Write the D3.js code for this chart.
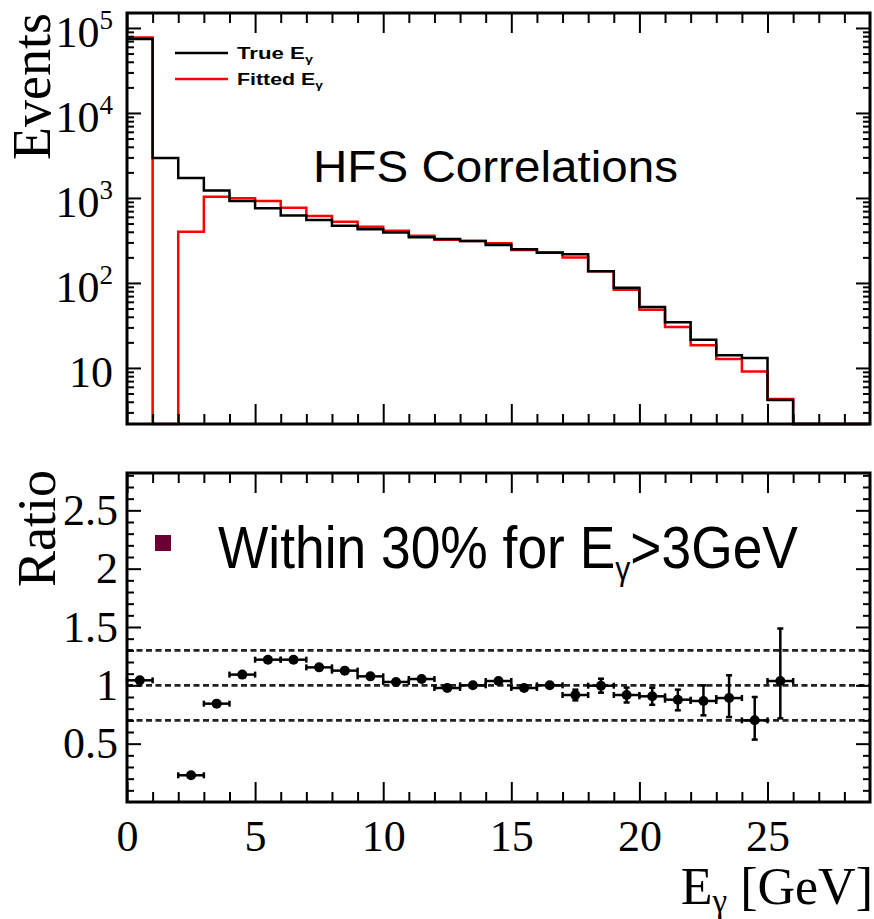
<!DOCTYPE html>
<html>
<head>
<meta charset="utf-8">
<script src="https://cdn.jsdelivr.net/npm/d3@7"></script>
<style>
  body { margin: 0; background: #fff; }
  svg { display: block; }
</style>
</head>
<body>
<svg id="chart" width="874" height="919"></svg>
<script>
// ---- data: photon energy spectrum, 1 GeV bins ----
const binLow = [0, 1, 2, 3, 4, 5, 6, 7, 8, 9, 10, 11, 12, 13, 14, 15, 16, 17, 18, 19, 20, 21, 22, 23, 24, 25, 26, 27, 28];
const binWidth = 1;
const trueE   = [74000, 2950, 1720, 1220, 922, 757, 620, 551, 472, 428, 391, 344, 330, 312, 280, 249, 227, 217, 137, 88, 52, 34.4, 21.5, 14.1, 13.1, 4.2, 0, 0, 0];
const fittedE = [77500, 0, 400, 1035, 990, 922, 769, 614, 526, 459, 412, 360, 323, 312, 293, 244, 229, 199, 137, 83, 48.5, 30.4, 18.5, 12.7, 9.1, 4.3, 0, 0, 0];

// ratio fitted / true per bin (null: no entry), with upper / lower errors
const ratio   = [1.043, null, 0.229, 0.843, 1.092, 1.22, 1.22, 1.154, 1.126, 1.077, 1.029, 1.054, 0.977, 1.0, 1.037, 0.977, 1.0, 0.917, 0.997, 0.917, 0.906, 0.877, 0.866, 0.891, 0.70, 1.037];
const errUp   = [0.004, null, 0.008, 0.008, 0.008, 0.009, 0.01, 0.011, 0.012, 0.013, 0.014, 0.015, 0.016, 0.017, 0.02, 0.022, 0.03, 0.046, 0.06, 0.064, 0.073, 0.086, 0.134, 0.195, 0.20, 0.45];
const errDown = [0.004, null, 0.008, 0.008, 0.008, 0.009, 0.01, 0.011, 0.012, 0.013, 0.014, 0.015, 0.016, 0.017, 0.02, 0.022, 0.03, 0.046, 0.06, 0.064, 0.073, 0.091, 0.123, 0.163, 0.165, 0.32];
const bandLines = [0.7, 1.0, 1.3];

// ---- axis ticks ----
const xMajor = [0, 5, 10, 15, 20, 25];
const xLabels = ["0", "5", "10", "15", "20", "25"];
const yTopMajor = [10, 100, 1000, 10000, 100000];
const yTopExp = ["", "2", "3", "4", "5"];
const yBotMajor = [0.5, 1, 1.5, 2, 2.5];
const yBotLabels = ["0.5", "1", "1.5", "2", "2.5"];

const legendItems = [
  { label: "True E", sub: "\u03b3", color: "#000", width: 76 },
  { label: "Fitted E", sub: "\u03b3", color: "#ff0000", width: 86 }
];

// ---- layout ----
const L = 127, R = 870;
const topT = 13, topB = 424;
const botT = 473, botB = 802;
const serif = "'Liberation Serif', 'Times New Roman', serif";
const sans = "'Liberation Sans', Arial, sans-serif";

const svg = d3.select("#chart");
svg.append("rect").attr("width", 874).attr("height", 919).attr("fill", "#fff");

const x = d3.scaleLinear().domain([0, 29]).range([L, R]);
const yMin = 2.19;
const yTop = d3.scaleLog().domain([yMin, 1.5e5]).range([topB, topT]);
const yBot = d3.scaleLinear().domain([0, 2.82]).range([botB, botT]);

const xMinor = d3.range(1, 29).filter(v => v % 5 !== 0);
const yTopMinor = [];
[1, 10, 100, 1000, 10000, 100000].forEach(dec => {
  for (let k = 2; k <= 9; k++) {
    const v = dec * k;
    if (v >= yMin && v <= 1.5e5) yTopMinor.push(v);
  }
});
const yBotMinor = d3.range(1, 29).map(i => i / 10).filter(v => Math.round(v * 10) % 5 !== 0);

// place a text at (px, py) and stretch it horizontally to a given width
function fitText(t, px, py, width) {
  const w = t.node().getComputedTextLength();
  t.attr("x", 0).attr("y", 0)
    .attr("transform", `translate(${px},${py}) scale(${width / w},1)`);
}

function tickAxis(g, axis) {
  g.call(axis);
  g.select(".domain").remove();
  g.selectAll(".tick line").attr("stroke", "#000").attr("stroke-width", 2);
  return g;
}

// ticks for a panel on all four sides
function panelTicks(yScale, yMaj, yMin2, top, bottom, showX) {
  const gx = svg.append("g");
  tickAxis(gx.append("g").attr("transform", `translate(0,${bottom})`),
    d3.axisBottom(x).tickValues(xMinor).tickSize(-10).tickFormat(""));
  const bx = tickAxis(gx.append("g").attr("transform", `translate(0,${bottom})`),
    d3.axisBottom(x).tickValues(xMajor).tickSize(-20).tickPadding(18)
      .tickFormat((d, i) => showX ? xLabels[i] : ""));
  bx.selectAll("text").attr("font-family", serif).attr("font-size", 44).attr("fill", "#000");
  tickAxis(gx.append("g").attr("transform", `translate(0,${top})`),
    d3.axisTop(x).tickValues(xMinor).tickSize(-10).tickFormat(""));
  tickAxis(gx.append("g").attr("transform", `translate(0,${top})`),
    d3.axisTop(x).tickValues(xMajor).tickSize(-20).tickFormat(""));

  tickAxis(svg.append("g").attr("transform", `translate(${L},0)`),
    d3.axisLeft(yScale).tickValues(yMin2).tickSize(-7).tickFormat(""));
  tickAxis(svg.append("g").attr("transform", `translate(${R},0)`),
    d3.axisRight(yScale).tickValues(yMin2).tickSize(-7).tickFormat(""));
  tickAxis(svg.append("g").attr("transform", `translate(${R},0)`),
    d3.axisRight(yScale).tickValues(yMaj).tickSize(-14).tickFormat(""));
  return tickAxis(svg.append("g").attr("transform", `translate(${L},0)`),
    d3.axisLeft(yScale).tickValues(yMaj).tickSize(-14).tickPadding(10));
}

// ---- top panel: spectra ----
const histLine = d3.line()
  .x(d => x(d[0]))
  .y(d => yTop(Math.max(d[1], yMin)))
  .curve(d3.curveStepAfter);

function histPoints(vals) {
  const pts = binLow.map((lo, i) => [lo, vals[i]]);
  pts.push([binLow[binLow.length - 1] + binWidth, vals[vals.length - 1]]);
  return pts;
}

svg.append("path").datum(histPoints(fittedE)).attr("d", histLine)
  .attr("fill", "none").attr("stroke", "#ff0000").attr("stroke-width", 2.5);
svg.append("path").datum(histPoints(trueE)).attr("d", histLine)
  .attr("fill", "none").attr("stroke", "#000").attr("stroke-width", 2.5);

const topYAxis = panelTicks(yTop, yTopMajor, yTopMinor, topT, topB, false);
topYAxis.selectAll(".tick text").each(function (d, i) {
  const t = d3.select(this);
  t.text(null).attr("x", -14).attr("dy", null).attr("y", 19)
    .attr("font-family", serif).attr("font-size", 44).attr("fill", "#000");
  t.append("tspan").text("10");
  if (yTopExp[i]) t.append("tspan").attr("font-size", 27).attr("dy", -18).text(yTopExp[i]);
});

svg.append("rect").attr("x", L).attr("y", topT).attr("width", R - L).attr("height", topB - topT)
  .attr("fill", "none").attr("stroke", "#000").attr("stroke-width", 3);

// legend
const leg = svg.append("g");
legendItems.forEach((it, i) => {
  const yy = 53 + i * 26;
  leg.append("line").attr("x1", 175).attr("x2", 228).attr("y1", yy).attr("y2", yy)
    .attr("stroke", it.color).attr("stroke-width", 2.5);
  const t = leg.append("text")
    .attr("font-family", sans).attr("font-weight", "bold").attr("font-size", 17).attr("fill", "#000");
  t.append("tspan").text(it.label);
  t.append("tspan").attr("font-size", 11).attr("dy", 4).text(it.sub);
  fitText(t, 237, yy + 6, it.width);
});

const hfs = svg.append("text")
  .attr("font-family", sans).attr("font-size", 44).attr("fill", "#000")
  .text("HFS Correlations");
fitText(hfs, 313, 182, 365);

svg.append("text").attr("transform", `translate(50,${topT}) rotate(-90)`)
  .attr("text-anchor", "end").attr("font-family", serif).attr("font-size", 54).attr("fill", "#000")
  .text("Events");

// ---- bottom panel: ratio ----
svg.selectAll("line.band").data(bandLines).enter().append("line")
  .attr("class", "band")
  .attr("x1", L).attr("x2", R)
  .attr("y1", d => yBot(d)).attr("y2", d => yBot(d))
  .attr("stroke", "#222").attr("stroke-width", 2.6).attr("stroke-dasharray", "6,3.5");

const pts = ratio.map((r, i) => ({ r, up: errUp[i], dn: errDown[i], lo: binLow[i] })).filter(d => d.r !== null);
const gp = svg.append("g").attr("stroke", "#000").attr("stroke-width", 2.5);
pts.forEach(d => {
  const cx = x(d.lo + binWidth / 2), cy = yBot(d.r);
  const x0 = x(d.lo), x1 = x(d.lo + binWidth);
  const y0 = yBot(d.r - d.dn), y1 = yBot(d.r + d.up);
  gp.append("line").attr("x1", x0).attr("x2", x1).attr("y1", cy).attr("y2", cy);
  gp.append("line").attr("x1", x0).attr("x2", x0).attr("y1", cy - 3).attr("y2", cy + 3);
  gp.append("line").attr("x1", x1).attr("x2", x1).attr("y1", cy - 3).attr("y2", cy + 3);
  if (y0 - y1 > 8) {
    gp.append("line").attr("x1", cx).attr("x2", cx).attr("y1", y0).attr("y2", y1);
    gp.append("line").attr("x1", cx - 3).attr("x2", cx + 3).attr("y1", y0).attr("y2", y0);
    gp.append("line").attr("x1", cx - 3).attr("x2", cx + 3).attr("y1", y1).attr("y2", y1);
  }
  svg.append("circle").attr("cx", cx).attr("cy", cy).attr("r", 5).attr("fill", "#000");
});

const botYAxis = panelTicks(yBot, yBotMajor, yBotMinor, botT, botB, true);
botYAxis.selectAll(".tick text")
  .text((d, i) => yBotLabels[i])
  .attr("x", -9)
  .attr("font-family", serif).attr("font-size", 44).attr("fill", "#000");

svg.append("rect").attr("x", L).attr("y", botT).attr("width", R - L).attr("height", botB - botT)
  .attr("fill", "none").attr("stroke", "#000").attr("stroke-width", 3);

svg.append("text").attr("transform", `translate(55,${botT - 3}) rotate(-90)`)
  .attr("text-anchor", "end").attr("font-family", serif).attr("font-size", 54).attr("fill", "#000")
  .text("Ratio");

const xt = svg.append("text").attr("x", 873).attr("y", 904).attr("text-anchor", "end")
  .attr("font-family", serif).attr("font-size", 52).attr("fill", "#000");
xt.append("tspan").text("E");
xt.append("tspan").attr("font-size", 33).attr("dy", 8).text("\u03b3");
xt.append("tspan").attr("dy", -8).text(" [GeV]");

// annotation
svg.append("rect").attr("x", 155).attr("y", 535).attr("width", 16).attr("height", 16).attr("fill", "#6a0032");
const note = svg.append("text")
  .attr("font-family", sans).attr("font-size", 60).attr("fill", "#000");
note.append("tspan").text("Within 30% for E");
note.append("tspan").attr("font-size", 34).attr("dy", 12).text("\u03b3");
note.append("tspan").attr("dy", -12).text(">3GeV");
fitText(note, 218, 568, 580);
</script>
</body>
</html>
